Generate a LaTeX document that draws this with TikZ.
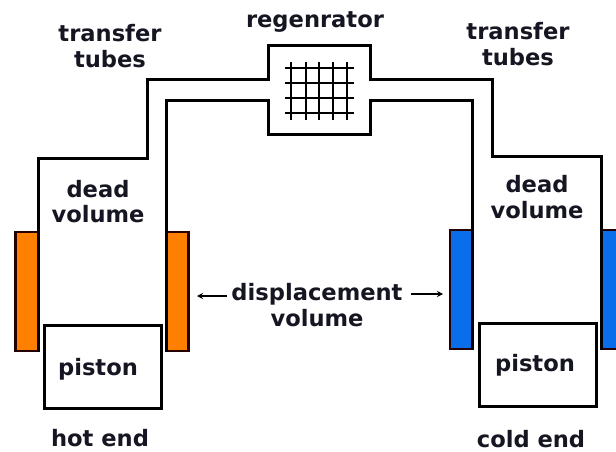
\documentclass[tikz,border=0pt]{standalone}
\usepackage{fontspec}
\setmainfont{DejaVu Sans}
\usetikzlibrary{arrows.meta}
\definecolor{hot}{RGB}{255,128,0}
\definecolor{cold}{RGB}{10,110,235}
\definecolor{ink}{RGB}{22,22,34}
\tikzset{
  wall/.style={line width=3pt,draw=black,miter limit=10},
  jacket/.style={line width=2.6pt,draw=black!85!red},
  pistonbox/.style={line width=3pt,draw=black,fill=white,minimum width=117pt,minimum height=83pt,inner sep=0pt,anchor=north west},
  lbl/.style={text=ink,font=\bfseries\fontsize{22.6}{25.5}\selectfont,align=center,inner sep=0pt},
  gridline/.style={line width=1.7pt,draw=black},
  point/.style={line width=1.5pt,draw=black,-{Stealth[length=6pt,width=6pt]}}
}
\begin{document}
\begin{tikzpicture}[x=1pt,y=-1pt]
\useasboundingbox (0,0) rectangle (616,452);
\fill[white] (0,0) rectangle (616,452);
% heated and cooled jackets
\draw[jacket,fill=hot] (15.5,232) rectangle (38,351);
\draw[jacket,fill=hot] (166,232) rectangle (188.5,351);
\draw[jacket,fill=cold] (450,230) rectangle (472,349);
\draw[jacket,fill=cold] (601,230) rectangle (625,349);
% tube walls
\draw[wall] (38.5,352) -- (38.5,158) -- (147,158) -- (147,80) -- (268,80) -- (268,46) -- (370,46) -- (370,80) -- (492,80) -- (492,156) -- (601,156) -- (601,350);
\draw[wall] (166,352) -- (166,100) -- (268,100) -- (268,134) -- (370,134) -- (370,100) -- (472,100) -- (472,350);
% regenerator mesh
\foreach \gx in {291,306,319,333,347} \draw[gridline] (\gx,62) -- (\gx,120);
\foreach \gy in {68,83,98,113} \draw[gridline] (285,\gy) -- (354,\gy);
% pistons
\node[pistonbox] (pl) at (42.5,323.5) {};
\node[pistonbox] (pr) at (477.5,321.5) {};
\node[lbl] (ptl) at (98,369) {piston};
\node[lbl] (ptr) at (535,365) {piston};
% labels
\node[lbl] (regen) at (315,22) {regenrator};
\node[lbl] (tl) at (110,46) {transfer\\tubes};
\node[lbl] (tr) at (518,44) {transfer\\tubes};
\node[lbl] (dl) at (98,201.5) {dead\\volume};
\node[lbl] (dr) at (537,197) {dead\\volume};
\node[lbl] (disp) at (317,305) {displacement\\volume};
\node[lbl] (hot) at (100,438) {hot end};
\node[lbl] (cold) at (531,439) {cold end};
% arrows
\coordinate (al) at (227,296);
\coordinate (ar) at (411,294);
\draw[point] (al) -- (197,296);
\draw[point] (ar) -- (443,294);
\end{tikzpicture}
\end{document}
